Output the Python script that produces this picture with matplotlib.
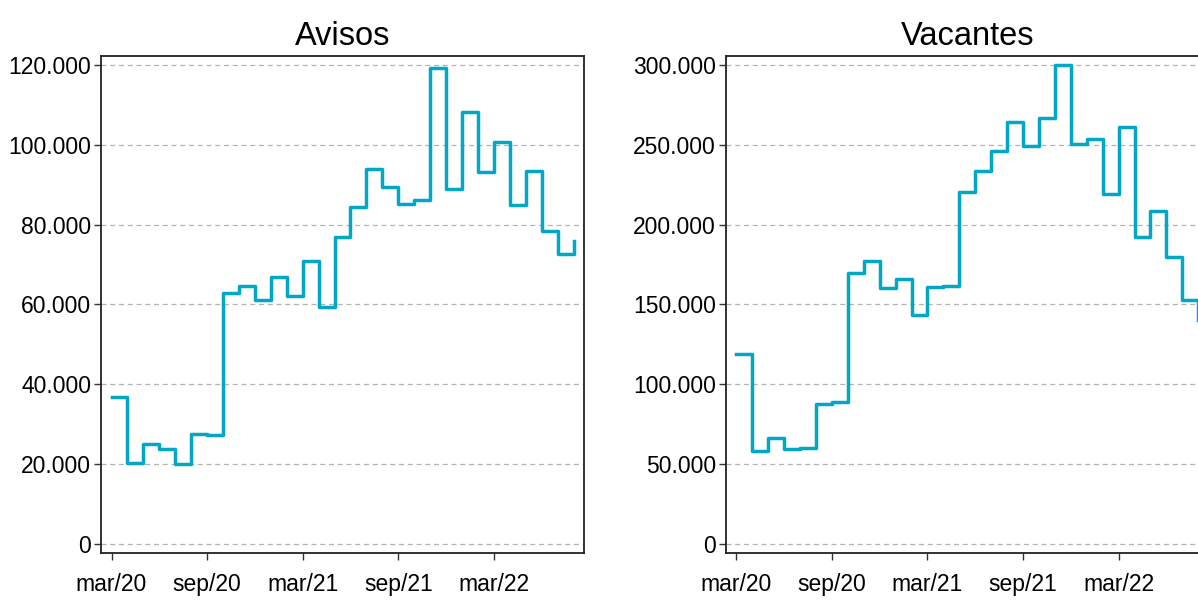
import matplotlib
matplotlib.use("Agg")
import matplotlib.pyplot as plt
from matplotlib.ticker import FuncFormatter

plt.rcParams['font.family'] = ['Liberation Sans', 'DejaVu Sans']

# meses desde mar/20 hasta ago/22
meses = ['mar/20', 'abr/20', 'may/20', 'jun/20', 'jul/20', 'ago/20', 'sep/20',
         'oct/20', 'nov/20', 'dic/20', 'ene/21', 'feb/21', 'mar/21', 'abr/21',
         'may/21', 'jun/21', 'jul/21', 'ago/21', 'sep/21', 'oct/21', 'nov/21',
         'dic/21', 'ene/22', 'feb/22', 'mar/22', 'abr/22', 'may/22', 'jun/22',
         'jul/22', 'ago/22']

avisos = [36800, 20300, 24950, 23850, 20050, 27600, 27400, 62800, 64650, 61150,
          67000, 62150, 70850, 59250, 77000, 84500, 94000, 89500, 85100, 86250,
          119300, 88850, 108100, 93200, 100600, 85000, 93500, 78450, 72650, 76000]

vacantes = [119100, 58000, 66300, 59450, 60100, 87800, 88650, 169400, 177500,
            160000, 166250, 143500, 160800, 161450, 220500, 233800, 246350,
            264500, 249500, 266600, 300000, 250300, 253400, 219200, 261000,
            192500, 208400, 179600, 152500, 140000]

tick_labels = ['mar/20', 'sep/20', 'mar/21', 'sep/21', 'mar/22']

color = '#00a8c6'


def miles(v, pos):
    return '{:,.0f}'.format(v).replace(',', '.')


def panel(ax, valores, titulo, ymax, paso):
    x = list(range(len(meses)))
    ax.step(x, valores, where='post', color=color, lw=2.5)
    ax.set_title(titulo, fontsize=23.5, pad=8)
    ax.set_xlim(-0.66, len(meses) - 1 + 0.66)
    margen = ymax * 0.0194
    ax.set_ylim(-margen, ymax + margen)
    ax.set_yticks(range(0, ymax + 1, paso))
    ax.yaxis.set_major_formatter(FuncFormatter(miles))
    ax.set_xticks([meses.index(m) for m in tick_labels])
    ax.set_xticklabels(tick_labels)
    ax.tick_params(labelsize=16.5, length=5, width=1, color='#333333',
                   direction='out', pad=2)
    ax.tick_params(axis='x', pad=9)
    ax.yaxis.grid(True, linestyle=(0, (4, 3)), color='#b4b4b4', lw=0.9)
    ax.set_axisbelow(True)
    for s in ax.spines.values():
        s.set_linewidth(1.3)
        s.set_color('#222222')


fig = plt.figure(figsize=(11.98, 6.01), dpi=100)
ax1 = fig.add_axes([0.0843, 0.0794, 0.4032, 0.828])
ax2 = fig.add_axes([0.6058, 0.0794, 0.4032, 0.828])

panel(ax1, avisos, 'Avisos', 120000, 20000)
panel(ax2, vacantes, 'Vacantes', 300000, 50000)

fig.savefig('out.png', dpi=100)
